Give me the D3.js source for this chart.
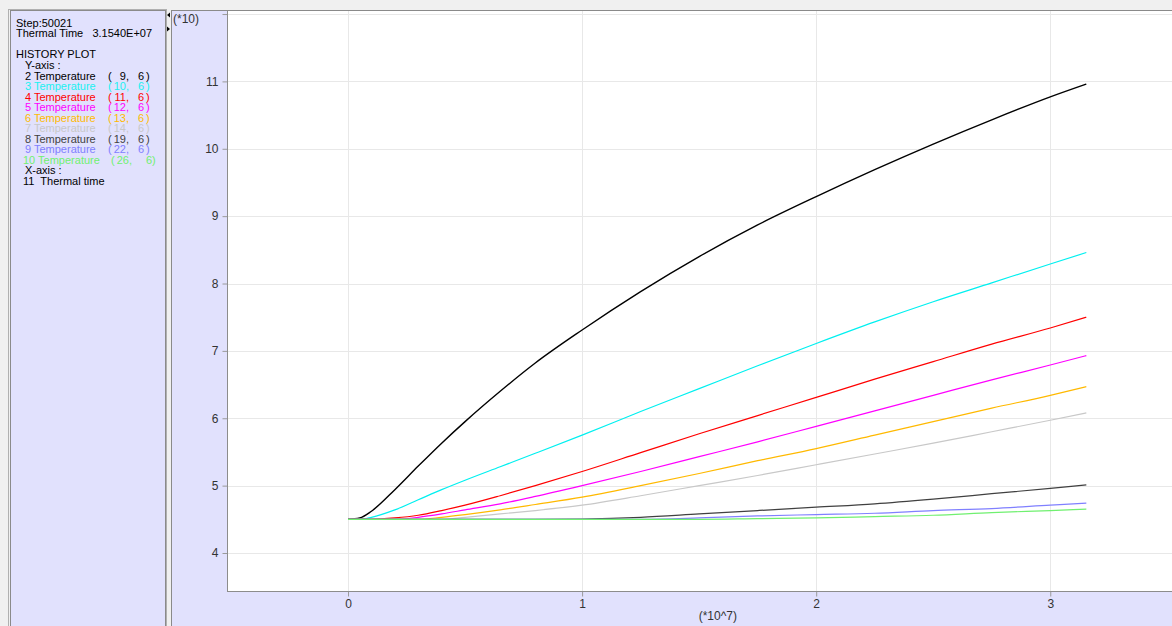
<!DOCTYPE html>
<html><head><meta charset="utf-8">
<script src="https://cdn.jsdelivr.net/npm/d3@7"></script>
<style>
body{margin:0;background:#f0f0f0;}
svg{display:block;font-family:"Liberation Sans",Arial,sans-serif;}
</style>
</head><body><svg id="c" width="1172" height="626"></svg>
<script>
// ---- Data (x in units of 10^7 s, y in units of 10) ----
const timeGrid = [0, 0.05, 0.1, 0.2, 0.3, 0.4, 0.5, 0.65, 0.8, 1.0, 1.25, 1.5, 1.75, 2.0, 2.25, 2.5, 2.75, 3.0, 3.154];
const temp2  = [4.5, 4.52, 4.62, 4.94, 5.29, 5.63, 5.95, 6.40, 6.82, 7.31, 7.88, 8.40, 8.87, 9.29, 9.69, 10.07, 10.43, 10.77, 10.96];
const temp3  = [4.5, 4.5, 4.53, 4.64, 4.79, 4.94, 5.08, 5.28, 5.48, 5.75, 6.10, 6.44, 6.78, 7.11, 7.43, 7.73, 8.01, 8.29, 8.46];
const temp4  = [4.5, 4.5, 4.5, 4.52, 4.56, 4.63, 4.71, 4.85, 5.00, 5.21, 5.49, 5.77, 6.04, 6.31, 6.58, 6.84, 7.10, 7.34, 7.50];
const temp5  = [4.5, 4.5, 4.5, 4.5, 4.53, 4.58, 4.64, 4.73, 4.84, 5.00, 5.21, 5.43, 5.65, 5.88, 6.11, 6.34, 6.57, 6.79, 6.93];
const temp6  = [4.5, 4.5, 4.5, 4.5, 4.5, 4.53, 4.57, 4.64, 4.72, 4.83, 5.00, 5.18, 5.37, 5.55, 5.75, 5.95, 6.15, 6.34, 6.47];
const temp7  = [4.5, 4.5, 4.5, 4.5, 4.5, 4.5, 4.53, 4.58, 4.63, 4.71, 4.85, 5.00, 5.15, 5.31, 5.47, 5.63, 5.80, 5.97, 6.08];
const temp8  = [4.5, 4.5, 4.5, 4.5, 4.5, 4.5, 4.5, 4.5, 4.5, 4.505, 4.53, 4.58, 4.63, 4.68, 4.73, 4.80, 4.88, 4.96, 5.01];
const temp9  = [4.5, 4.5, 4.5, 4.5, 4.5, 4.5, 4.5, 4.5, 4.5, 4.5, 4.5, 4.52, 4.55, 4.57, 4.59, 4.63, 4.66, 4.71, 4.74];
const temp10 = [4.5, 4.5, 4.5, 4.5, 4.5, 4.5, 4.5, 4.5, 4.5, 4.5, 4.5, 4.5, 4.51, 4.52, 4.54, 4.56, 4.60, 4.63, 4.65];
const seriesValues = [temp2, temp3, temp4, temp5, temp6, temp7, temp8, temp9, temp10];
const seriesIds = [2, 3, 4, 5, 6, 7, 8, 9, 10];
const nodeI = [9, 10, 11, 12, 13, 14, 19, 22, 26];
const nodeJ = [6, 6, 6, 6, 6, 6, 6, 6, 6];
const seriesColors = ["#000000", "#00f0f0", "#ff0000", "#ff00ff", "#ffb900", "#c8c8c8", "#404040", "#8080ff", "#70f070"];
const yTicks = [4, 5, 6, 7, 8, 9, 10, 11, 12];
const yTickLabels = ["4", "5", "6", "7", "8", "9", "10", "11", ""];
const xTicks = [0, 1, 2, 3];
const xTickLabels = ["0", "1", "2", "3"];
const infoLines = ["Step:50021", "Thermal Time   3.1540E+07"];

const svg = d3.select("#c");
const panelFill = "#e1e1fd";

// ---- Frames ----
svg.append("rect").attr("x", 0).attr("y", 0).attr("width", 1172).attr("height", 626).attr("fill", "#f0f0f0");
svg.append("rect").attr("x", 8.5).attr("y", 9.5).attr("width", 158).attr("height", 630).attr("fill", "none").attr("stroke", "#b0b0b0");
svg.append("rect").attr("x", 10.5).attr("y", 10.5).attr("width", 155).attr("height", 630).attr("fill", panelFill).attr("stroke", "#8a8a8a");
svg.append("rect").attr("x", 171.5).attr("y", 10.5).attr("width", 1010).attr("height", 630).attr("fill", panelFill).attr("stroke", "#8a8a8a");

// ---- Scales ----
const plotL = 227, plotR = 1172, plotT = 11, plotB = 591;
const x = d3.scaleLinear().domain([-0.517, 3.52]).range([plotL, plotR]);
const y = d3.scaleLinear().domain([3.436, 12.045]).range([plotB, plotT]);

svg.append("rect").attr("x", plotL).attr("y", plotT).attr("width", plotR - plotL).attr("height", plotB - plotT).attr("fill", "#ffffff");

// grid
const grid = svg.append("g");
grid.selectAll("line.gy").data(yTicks).join("line")
  .attr("x1", plotL).attr("x2", plotR)
  .attr("y1", d => Math.round(y(d)) + 0.5).attr("y2", d => Math.round(y(d)) + 0.5)
  .attr("stroke", "#e8e8e8");
grid.selectAll("line.gx").data(xTicks).join("line")
  .attr("y1", plotT).attr("y2", plotB)
  .attr("x1", d => Math.round(x(d)) + 0.5).attr("x2", d => Math.round(x(d)) + 0.5)
  .attr("stroke", "#e8e8e8");

// axes
const yAxis = d3.axisLeft(y).tickValues(yTicks).tickSize(5).tickPadding(4)
  .tickFormat((d, i) => yTickLabels[i]);
const gy = svg.append("g").attr("transform", `translate(${plotL + 0.5},0)`).call(yAxis);
const xAxis = d3.axisBottom(x).tickValues(xTicks).tickSize(5).tickPadding(3)
  .tickFormat((d, i) => xTickLabels[i]);
const gx = svg.append("g").attr("transform", `translate(0,${plotB + 0.5})`).call(xAxis);
[gx, gy].forEach(g => {
  g.select(".domain").remove();
  g.selectAll(".tick line").attr("stroke", "#9a9a9a");
  g.selectAll(".tick text").attr("fill", "#333").attr("font-size", 12)
   .attr("font-family", "Liberation Sans, Arial, sans-serif");
});
svg.append("line").attr("x1", plotL + 0.5).attr("x2", plotL + 0.5).attr("y1", plotT).attr("y2", plotB + 1).attr("stroke", "#8c8c8c");
svg.append("line").attr("x1", plotL).attr("x2", plotR).attr("y1", plotB + 0.5).attr("y2", plotB + 0.5).attr("stroke", "#8c8c8c");
svg.append("line").attr("x1", 172).attr("x2", plotR).attr("y1", 10.5).attr("y2", 10.5).attr("stroke", "#8a8a8a");

// axis multipliers
svg.append("text").attr("x", 173).attr("y", 23).attr("font-size", 12).attr("fill", "#333").text("(*10)");
svg.append("text").attr("x", x(1.58)).attr("y", 620).attr("font-size", 12).attr("fill", "#333")
  .attr("text-anchor", "middle").text("(*10^7)");
// small arrows
svg.append("path").attr("d", "M167,15 l3,-2.5 v5 z").attr("fill", "#000");
svg.append("path").attr("d", "M170,29 l-3,-2.5 v5 z").attr("fill", "#000");

// ---- Lines ----
svg.append("clipPath").attr("id", "pc").append("rect")
  .attr("x", plotL + 1).attr("y", plotT).attr("width", plotR - plotL).attr("height", plotB - plotT);
const line = d3.line().curve(d3.curveMonotoneX).x((d, i) => x(timeGrid[i])).y(d => y(d));
svg.append("g").attr("clip-path", "url(#pc)")
  .selectAll("path").data(seriesValues).join("path")
  .attr("d", d => line(d))
  .attr("fill", "none")
  .attr("stroke", (d, i) => seriesColors[i])
  .attr("stroke-width", (d, i) => i === 0 ? 1.4 : 1.2);

// ---- Info panel ----
const info = svg.append("g").attr("font-size", 11).attr("fill", "#000");
info.selectAll("text.info").data(infoLines).join("text")
  .attr("x", 16).attr("y", (d, i) => 27 + i * 10.3).attr("xml:space", "preserve")
  .style("white-space", "pre").text(d => d);
info.append("text").attr("x", 16).attr("y", 58).text("HISTORY PLOT");
info.append("text").attr("x", 25).attr("y", 68.8).text("Y-axis :");
const rowY = i => 79.5 + i * 10.5;
const rows = info.selectAll("g.row").data(seriesIds).join("g").attr("fill", (d, i) => seriesColors[i] === "#00f0f0" ? "#20f0f0" : seriesColors[i]);
rows.append("text").attr("x", d => d >= 10 ? 23 : 25).attr("y", (d, i) => rowY(i))
  .text(d => `${d} Temperature`);
rows.append("text").attr("x", d => d >= 10 ? 111 : 108).attr("y", (d, i) => rowY(i)).text("(");
rows.append("text").attr("x", d => d >= 10 ? 132 : 129).attr("y", (d, i) => rowY(i)).attr("text-anchor", "end")
  .text((d, i) => nodeI[i] + ",");
rows.append("text").attr("x", d => d >= 10 ? 146 : 138).attr("y", (d, i) => rowY(i))
  .text((d, i) => nodeJ[i]);
rows.append("text").attr("x", d => d >= 10 ? 152 : 146).attr("y", (d, i) => rowY(i)).text(")");
info.append("text").attr("x", 25).attr("y", rowY(9)).text("X-axis :");
info.append("text").attr("x", 23).attr("y", rowY(10)).attr("xml:space", "preserve").style("white-space", "pre").text("11  Thermal time");
</script>
</body></html>
